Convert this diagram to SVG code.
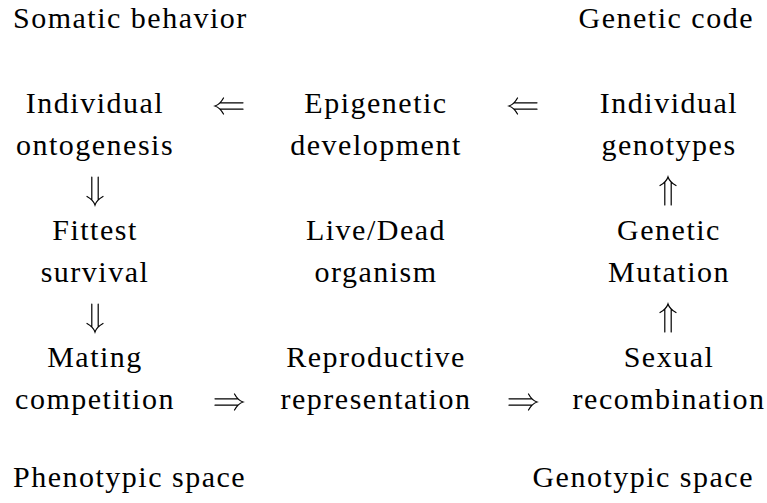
<svg xmlns="http://www.w3.org/2000/svg" width="767" height="503" viewBox="0 0 767 503">
  <style>
    .t { font-family: 'Liberation Serif', 'Times New Roman', Tinos, 'DejaVu Serif', serif; font-size: 30px; letter-spacing: 1.5px; fill: #000; }
    .c { text-anchor: middle; }
    .r { text-anchor: end; }
    .arr { fill: none; stroke: #000; stroke-width: 1.2; stroke-linecap: round; }
  </style>
  <defs>
    <path id="dbl" class="arr" d="M-28,-3.2 H-5 M-28,3.2 H-5 M-8.5,-8 C-6,-3.5 -3,-1 0,0 C-3,1 -6,3.5 -8.5,8"/>
  </defs>
  <rect width="767" height="503" fill="#fff"/>

  <g class="t" font-family="Liberation Serif, serif">
  <g id="labels">
    <g id="somatic-behavior"><text x="13" y="28">Somatic behavior</text></g>
    <g id="genetic-code"><text class="r" x="754" y="28">Genetic code</text></g>
    <g id="phenotypic-space"><text x="13" y="487">Phenotypic space</text></g>
    <g id="genotypic-space"><text class="r" x="754" y="487">Genotypic space</text></g>
  </g>

  <g id="individual-ontogenesis"><text class="c" x="95" y="113">Individual</text><text class="c" x="95" y="155">ontogenesis</text></g>
  <g id="epigenetic-development"><text class="c" x="376" y="113">Epigenetic</text><text class="c" x="376" y="155">development</text></g>
  <g id="individual-genotypes"><text class="c" x="669" y="113">Individual</text><text class="c" x="669" y="155">genotypes</text></g>
  <g id="fittest-survival"><text class="c" x="95" y="240">Fittest</text><text class="c" x="95" y="282">survival</text></g>
  <g id="live-dead-organism"><text class="c" x="376" y="240">Live/Dead</text><text class="c" x="376" y="282">organism</text></g>
  <g id="genetic-mutation"><text class="c" x="669" y="240">Genetic</text><text class="c" x="669" y="282">Mutation</text></g>
  <g id="mating-competition"><text class="c" x="95" y="367">Mating</text><text class="c" x="95" y="409">competition</text></g>
  <g id="reproductive-representation"><text class="c" x="376" y="367">Reproductive</text><text class="c" x="376" y="409">representation</text></g>
  <g id="sexual-recombination"><text class="c" x="669" y="367">Sexual</text><text class="c" x="669" y="409">recombination</text></g>
  </g>

  <g id="connectors">
    <use href="#dbl" transform="translate(215,106) rotate(180)"/>
    <use href="#dbl" transform="translate(509,106) rotate(180)"/>
    <use href="#dbl" transform="translate(95,205) rotate(90)"/>
    <use href="#dbl" transform="translate(95,332) rotate(90)"/>
    <use href="#dbl" transform="translate(668,177) rotate(-90)"/>
    <use href="#dbl" transform="translate(668,304) rotate(-90)"/>
    <use href="#dbl" transform="translate(243,402)"/>
    <use href="#dbl" transform="translate(537,402)"/>
  </g>
</svg>
